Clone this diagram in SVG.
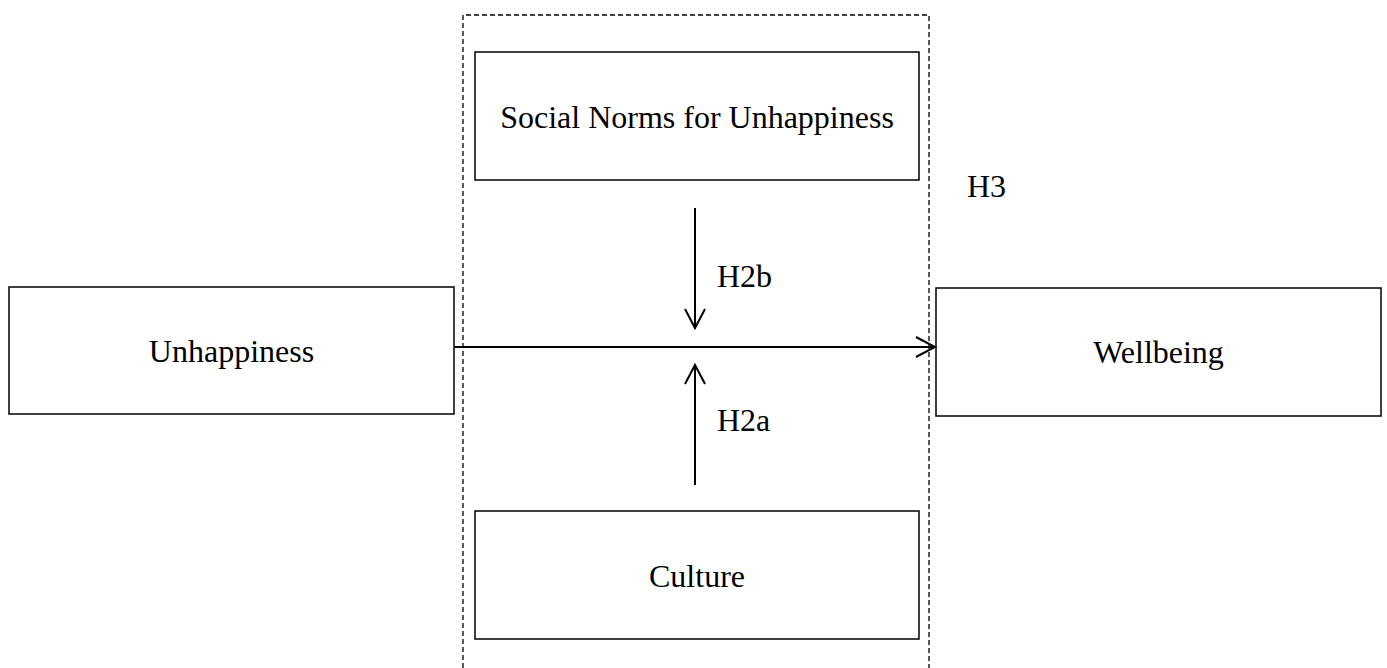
<svg xmlns="http://www.w3.org/2000/svg" width="1387" height="668" viewBox="0 0 1387 668">
  <style>
    .box { fill: #ffffff; stroke: #000000; stroke-width: 1.5; }
    .frame { fill: none; stroke: #000000; stroke-width: 1.3; stroke-dasharray: 5 3; }
    .label { font-family: "Liberation Serif", "Times New Roman", serif; font-size: 32px; fill: #000000; }
    .mid { text-anchor: middle; }
    .edge { fill: none; stroke: #000000; stroke-width: 2; }
  </style>
  <defs>
    <marker id="open-arrow" markerUnits="userSpaceOnUse" markerWidth="24" markerHeight="24" viewBox="-20 -12 24 24" refX="0" refY="0" orient="auto">
      <path d="M -19 -10 L 0 0 L -19 10" fill="none" stroke="#000000" stroke-width="2"/>
    </marker>
  </defs>

  <rect width="1387" height="668" fill="#ffffff"/>

  <!-- dashed moderator frame (open at the bottom) -->
  <path class="frame" d="M 463 668 L 463 15 L 929 15 L 929 668"/>

  <g id="node-social-norms">
    <rect class="box" x="475" y="52" width="444" height="128"/>
    <text class="label mid" x="697" y="128">Social Norms for Unhappiness</text>
  </g>

  <g id="node-unhappiness">
    <rect class="box" x="9" y="287" width="445" height="127"/>
    <text class="label mid" x="231.5" y="362">Unhappiness</text>
  </g>

  <g id="node-wellbeing">
    <rect class="box" x="936" y="288" width="445" height="128"/>
    <text class="label mid" x="1158.5" y="363">Wellbeing</text>
  </g>

  <g id="node-culture">
    <rect class="box" x="475" y="511" width="444" height="128"/>
    <text class="label mid" x="697" y="587">Culture</text>
  </g>

  <g id="connectors">
    <line class="edge" x1="454" y1="347" x2="935" y2="347" marker-end="url(#open-arrow)"/>
    <line class="edge" x1="695" y1="208" x2="695" y2="328" marker-end="url(#open-arrow)"/>
    <line class="edge" x1="695" y1="485" x2="695" y2="365" marker-end="url(#open-arrow)"/>
  </g>

  <g id="labels">
    <text class="label" x="967" y="197">H3</text>
    <text class="label" x="717" y="287">H2b</text>
    <text class="label" x="717" y="431">H2a</text>
  </g>
</svg>
